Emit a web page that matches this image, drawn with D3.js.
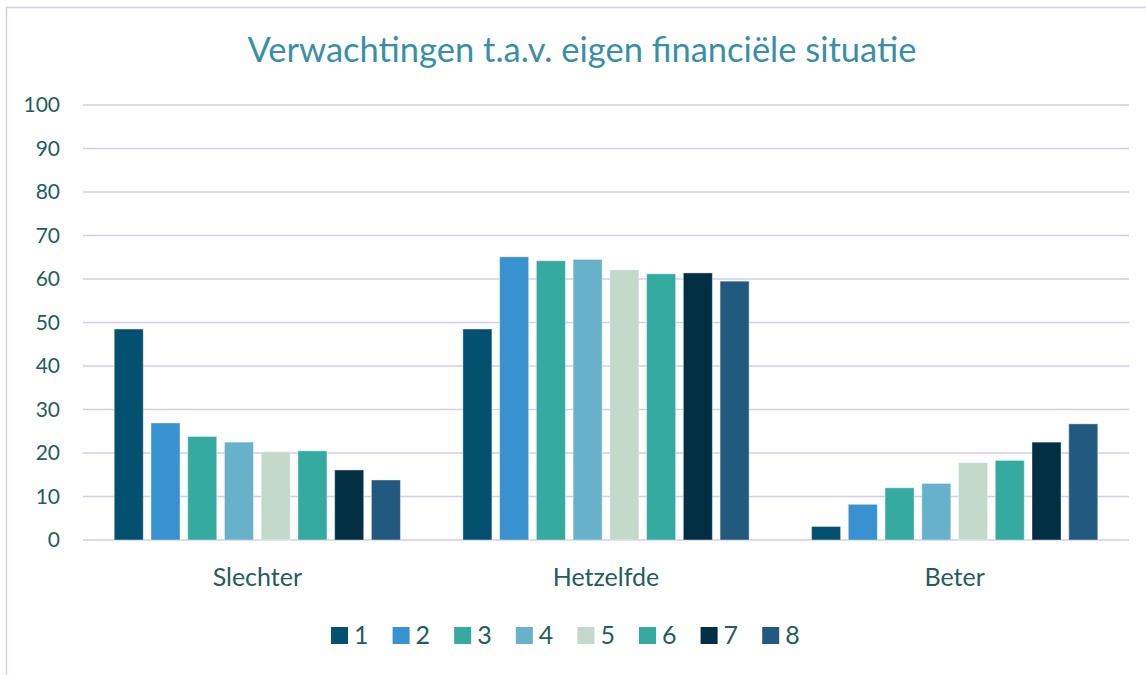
<!DOCTYPE html>
<html>
<head>
<meta charset="utf-8">
<script src="https://cdn.jsdelivr.net/npm/d3@7"></script>
<style>
  body { margin: 0; background: #fff; }
  svg text { font-family: Lato, "Open Sans", sans-serif; }
</style>
</head>
<body>
<svg id="chart" width="1146" height="675"></svg>
<script>
const categories = ["Slechter", "Hetzelfde", "Beter"];
const seriesNames = ["1", "2", "3", "4", "5", "6", "7", "8"];
const colors = ["#03506f", "#3892cf", "#35aaa0", "#67b1ca", "#c3d9cc", "#35aaa0", "#032f45", "#215a7e"];
// one list per series, values for Slechter, Hetzelfde, Beter
const s1 = [48.5, 48.5, 3.1];
const s2 = [26.9, 65.1, 8.2];
const s3 = [23.8, 64.2, 12.0];
const s4 = [22.5, 64.5, 13.0];
const s5 = [20.3, 62.1, 17.8];
const s6 = [20.5, 61.2, 18.3];
const s7 = [16.1, 61.4, 22.5];
const s8 = [13.8, 59.5, 26.7];
const seriesValues = [s1, s2, s3, s4, s5, s6, s7, s8];
const yTicks = [0, 10, 20, 30, 40, 50, 60, 70, 80, 90, 100];

const svg = d3.select("#chart");
const margin = { top: 105, left: 83, right: 1129, bottom: 540 };

// chart frame
svg.append("rect")
    .attr("x", 6.5).attr("y", 7.5)
    .attr("width", 1160).attr("height", 700)
    .attr("fill", "none")
    .attr("stroke", "#d3cdee")
    .attr("stroke-width", 1.5);

svg.append("text")
    .attr("x", 582).attr("y", 62)
    .attr("text-anchor", "middle")
    .attr("fill", "#3a8fa8")
    .attr("font-size", 34.5)
    .text("Verwachtingen t.a.v. eigen financiële situatie");

const y = d3.scaleLinear().domain([0, 100]).range([margin.bottom, margin.top]);
const x0 = d3.scaleBand().domain(categories).range([margin.left, margin.right]).padding(0);
const x1 = d3.scaleBand().domain(seriesNames).range([0, x0.bandwidth()])
    .paddingInner(0.21).paddingOuter(0.85);

// gridlines
svg.append("g")
    .selectAll("line")
    .data(yTicks)
    .enter()
    .append("line")
    .attr("x1", margin.left).attr("x2", margin.right)
    .attr("y1", d => y(d)).attr("y2", d => y(d))
    .attr("stroke", "#d3cdee")
    .attr("stroke-width", 1.5);

// y labels
svg.append("g")
    .selectAll("text")
    .data(yTicks)
    .enter()
    .append("text")
    .attr("x", 60)
    .attr("y", d => y(d) + 7)
    .attr("text-anchor", "end")
    .attr("fill", "#245e5c")
    .attr("font-size", 21)
    .text(d => d);

// bars
const groups = svg.append("g")
    .selectAll("g")
    .data(categories)
    .enter()
    .append("g")
    .attr("transform", d => "translate(" + x0(d) + ",0)");

groups.selectAll("rect")
    .data((c, ci) => seriesNames.map((s, si) => ({ s: s, si: si, v: seriesValues[si][ci] })))
    .enter()
    .append("rect")
    .attr("x", d => x1(d.s))
    .attr("y", d => y(d.v))
    .attr("width", x1.bandwidth())
    .attr("height", d => y(0) - y(d.v))
    .attr("fill", d => colors[d.si])
    .attr("stroke", "#ffffff")
    .attr("stroke-opacity", 0.4)
    .attr("stroke-width", 1);

// category labels
svg.append("g")
    .selectAll("text")
    .data(categories)
    .enter()
    .append("text")
    .attr("x", d => x0(d) + x0.bandwidth() / 2)
    .attr("y", 586)
    .attr("text-anchor", "middle")
    .attr("fill", "#245e5c")
    .attr("font-size", 25)
    .text(d => d);

// legend
const legend = svg.append("g")
    .selectAll("g")
    .data(seriesNames)
    .enter()
    .append("g")
    .attr("transform", (d, i) => "translate(" + (331 + i * 61.6) + ",627)");

legend.append("rect")
    .attr("width", 17).attr("height", 17)
    .attr("fill", (d, i) => colors[i]);

legend.append("text")
    .attr("x", 23).attr("y", 17)
    .attr("fill", "#245e5c")
    .attr("font-size", 25)
    .text(d => d);
</script>
</body>
</html>
